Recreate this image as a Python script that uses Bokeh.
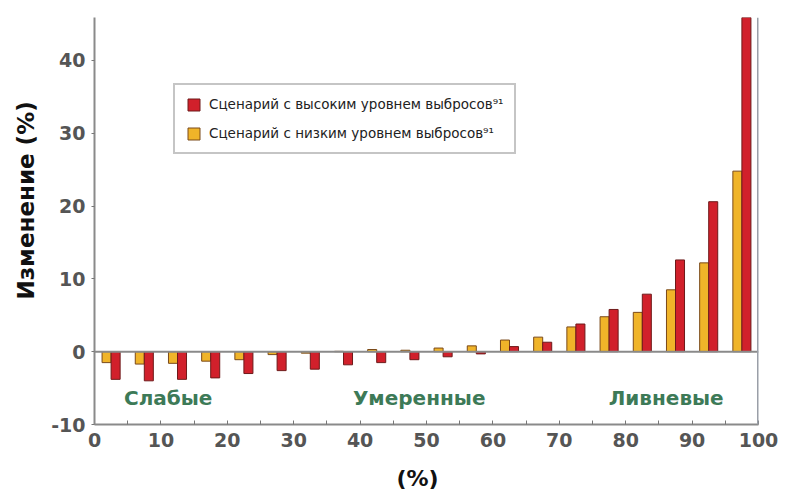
from bokeh.plotting import figure
from bokeh.models import (ColumnDataSource, Span, Legend, LegendItem, FixedTicker,
                          Range1d, PrintfTickFormatter, Title)
from bokeh.core.properties import value
from bokeh.embed import file_html
from bokeh.resources import INLINE

# Percentile bins (centre of each 5 % class)
bins = [2.5, 7.5, 12.5, 17.5, 22.5, 27.5, 32.5, 37.5, 42.5, 47.5,
        52.5, 57.5, 62.5, 67.5, 72.5, 77.5, 82.5, 87.5, 92.5, 97.5]
# Change (%) – low-emission scenario (yellow)
low_scen = [-1.5, -1.7, -1.6, -1.3, -1.1, -0.4, -0.2, 0.05, 0.3, 0.2,
            0.5, 0.8, 1.6, 2.0, 3.4, 4.8, 5.4, 8.5, 12.2, 24.8]
# Change (%) – high-emission scenario (red)
high_scen = [-3.8, -4.0, -3.8, -3.6, -3.0, -2.6, -2.4, -1.8, -1.5, -1.1,
             -0.7, -0.3, 0.7, 1.3, 3.8, 5.8, 7.9, 12.6, 20.6, 48.0]
x_ticks = [0, 10, 20, 30, 40, 50, 60, 70, 80, 90, 100]
y_ticks = [-10, 0, 10, 20, 30, 40]
zone_names = ["Слабые", "Умеренные", "Ливневые"]
legend_labels = ["Сценарий с высоким уровнем выбросов⁹¹",
                 "Сценарий с низким уровнем выбросов⁹¹"]
x_title = "(%)"
y_title = "Изменение (%)"

FONT = "DejaVu Sans"
OFF = 0.68
W = 1.36

p = figure(width=779, height=504, output_backend="svg", toolbar_location=None,
           x_range=Range1d(0, 100), y_range=Range1d(-10, 45.9),
           min_border_left=94, min_border_right=21, min_border_top=17, min_border_bottom=79)
p.outline_line_color = None
p.grid.visible = False
p.background_fill_color = "white"

src = ColumnDataSource(dict(
    xl=[b - OFF for b in bins], xh=[b + OFF for b in bins],
    low=low_scen, high=high_scen))

r_low = p.vbar(x="xl", top="low", bottom=0, width=W, source=src,
               fill_color="#f0b429", line_color="#7a4a1a", line_width=1)
r_high = p.vbar(x="xh", top="high", bottom=0, width=W, source=src,
                fill_color="#d1202b", line_color="#6e1a1a", line_width=1)

# zero line and right border
p.add_layout(Span(location=0, dimension="width", line_color="#8a8a8a", line_width=2))
p.add_layout(Span(location=100, dimension="height", line_color="#9a9fa8", line_width=3))

# zone labels
zone_x = [11.1, 48.9, 86.1]
zone_y = [-6.3, -6.3, -6.3]
p.text(x=zone_x, y=zone_y, text=zone_names, text_font=value(FONT),
       text_font_style="bold", text_font_size="20px", text_color="#3d7a57",
       text_align="center", text_baseline="middle")

# axes
for ax in (p.xaxis[0], p.yaxis[0]):
    ax.axis_line_color = "#8a8a8a"
    ax.axis_line_width = 2
    ax.major_tick_line_color = "#777777"
    ax.minor_tick_line_color = "#777777"
    ax.major_label_text_font = FONT
    ax.major_label_text_font_style = "bold"
    ax.major_label_text_font_size = "19px"
    ax.major_label_text_color = "#555555"

p.xaxis.ticker = FixedTicker(ticks=x_ticks, minor_ticks=[5 + 10 * i for i in range(10)])
p.xaxis.major_tick_in = 4
p.xaxis.major_tick_out = 0
p.xaxis.minor_tick_in = 4
p.xaxis.minor_tick_out = 0
p.xaxis.major_label_standoff = 8

p.yaxis.ticker = FixedTicker(ticks=y_ticks)
p.yaxis.formatter = PrintfTickFormatter(format="%d")
p.yaxis.major_tick_in = 0
p.yaxis.major_tick_out = 3
p.yaxis.minor_tick_line_color = None
p.yaxis.major_label_standoff = 6

# axis titles
p.add_layout(Title(text=y_title, align="left", offset=125, standoff=20,
                   text_font=FONT, text_font_style="bold", text_font_size="23px",
                   text_color="#111111"), "left")
p.add_layout(Title(text=x_title, align="left", offset=302, standoff=28,
                   text_font=FONT, text_font_style="bold", text_font_size="22px",
                   text_color="#111111"), "below")

legend = Legend(items=[LegendItem(label=legend_labels[0], renderers=[r_high]),
                       LegendItem(label=legend_labels[1], renderers=[r_low])],
                location=(79, 270), margin=0, padding=11, spacing=13,
                glyph_width=15, glyph_height=15, label_standoff=8,
                label_text_font=FONT, label_text_font_size="13.5px",
                label_text_color="#222222", label_height=15,
                border_line_color="#8c8c8c", border_line_width=2,
                background_fill_color="white", background_fill_alpha=1)
p.add_layout(legend)

open("out.html", "w").write(file_html(p, INLINE))
